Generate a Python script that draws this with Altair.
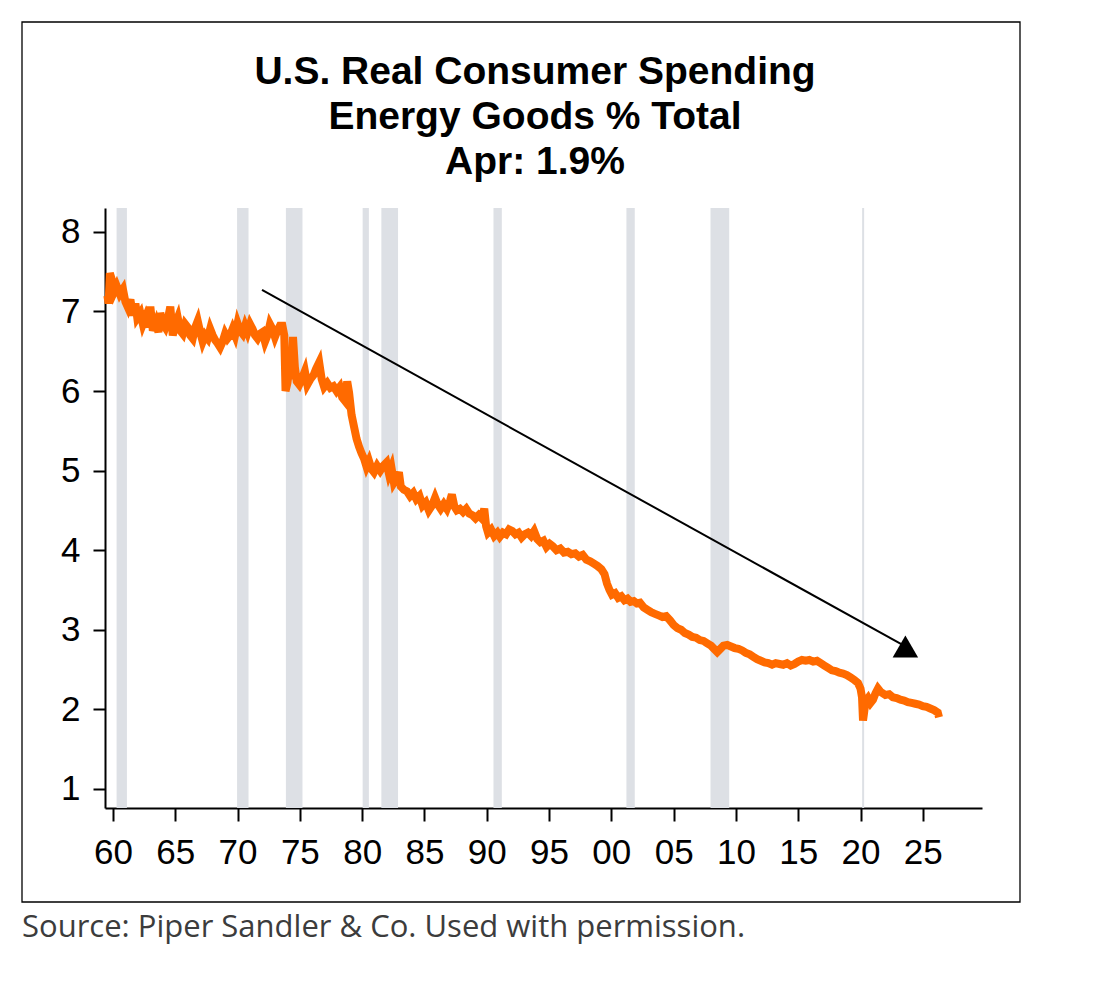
import altair as alt
import pandas as pd

# Energy goods share of real consumer spending (%), monthly-ish readings
years = [
    1959.55, 1959.65, 1959.75, 1959.95, 1960.10, 1960.30, 1960.55, 1960.80, 1961.00, 1961.20,
    1961.40, 1961.60, 1961.80, 1961.95, 1962.20, 1962.40, 1962.60, 1962.80, 1963.00, 1963.20,
    1963.45, 1963.65, 1963.80, 1964.00, 1964.20, 1964.40, 1964.60, 1964.80, 1965.00, 1965.20,
    1965.40, 1965.60, 1965.80, 1966.00, 1966.20, 1966.40, 1966.60, 1966.80, 1967.00, 1967.20,
    1967.40, 1967.60, 1967.80, 1968.00, 1968.20, 1968.40, 1968.60, 1968.80, 1969.00, 1969.20,
    1969.40, 1969.60, 1969.80, 1970.00, 1970.20, 1970.40, 1970.60, 1970.80, 1971.00, 1971.20,
    1971.40, 1971.60, 1971.80, 1972.00, 1972.20, 1972.40, 1972.60, 1972.80, 1973.00, 1973.20,
    1973.40, 1973.60, 1973.75, 1973.85, 1974.00, 1974.15, 1974.30, 1974.45, 1974.60, 1974.75,
    1974.95, 1975.15, 1975.40, 1975.60, 1975.85, 1976.10, 1976.30, 1976.55, 1976.75, 1976.95,
    1977.20, 1977.45, 1977.70, 1977.95, 1978.20, 1978.40, 1978.60, 1978.80, 1978.95, 1979.15,
    1979.35, 1979.55, 1979.75, 1979.95, 1980.15, 1980.35, 1980.55, 1980.75, 1980.95, 1981.20,
    1981.45, 1981.70, 1981.95, 1982.15, 1982.35, 1982.55, 1982.75, 1982.95, 1983.10, 1983.35,
    1983.60, 1983.85, 1984.10, 1984.35, 1984.60, 1984.85, 1985.10, 1985.35, 1985.60, 1985.85,
    1986.05, 1986.30, 1986.55, 1986.80, 1987.05, 1987.20, 1987.40, 1987.60, 1987.85, 1988.10,
    1988.35, 1988.60, 1988.85, 1989.10, 1989.35, 1989.60, 1989.80, 1989.95, 1990.10, 1990.35,
    1990.60, 1990.85, 1991.05, 1991.30, 1991.55, 1991.80, 1992.05, 1992.30, 1992.55, 1992.80,
    1993.05, 1993.30, 1993.55, 1993.80, 1994.05, 1994.30, 1994.55, 1994.80, 1995.05, 1995.30,
    1995.60, 1995.90, 1996.20, 1996.50, 1996.80, 1997.10, 1997.40, 1997.70, 1998.00, 1998.30,
    1998.60, 1998.90, 1999.20, 1999.45, 1999.65, 1999.85, 2000.05, 2000.30, 2000.55, 2000.80,
    2001.05, 2001.30, 2001.55, 2001.80, 2002.05, 2002.30, 2002.60, 2002.90, 2003.20, 2003.50,
    2003.80, 2004.10, 2004.40, 2004.70, 2005.00, 2005.30, 2005.60, 2005.90, 2006.20, 2006.50,
    2006.80, 2007.10, 2007.40, 2007.70, 2008.00, 2008.25, 2008.50, 2008.75, 2009.00, 2009.30,
    2009.60, 2009.90, 2010.20, 2010.50, 2010.80, 2011.10, 2011.40, 2011.70, 2012.00, 2012.30,
    2012.60, 2012.90, 2013.20, 2013.50, 2013.80, 2014.10, 2014.40, 2014.70, 2015.00, 2015.30,
    2015.60, 2015.90, 2016.20, 2016.50, 2016.80, 2017.10, 2017.40, 2017.70, 2018.00, 2018.30,
    2018.60, 2018.90, 2019.20, 2019.50, 2019.80, 2020.00, 2020.12, 2020.20, 2020.28, 2020.40,
    2020.60, 2020.80, 2021.00, 2021.20, 2021.40, 2021.60, 2021.80, 2022.00, 2022.30, 2022.60,
    2022.90, 2023.20, 2023.50, 2023.80, 2024.10, 2024.40, 2024.70, 2025.00, 2025.30, 2025.60,
    2025.90, 2026.20, 2026.30,
]
share = [
    7.20, 7.10, 7.48, 7.38, 7.25, 7.32, 7.22, 7.28, 7.12, 7.05,
    7.15, 6.95, 7.10, 6.92, 6.98, 6.84, 6.92, 6.80, 7.06, 6.76,
    6.86, 6.74, 6.98, 6.85, 6.80, 6.90, 7.06, 6.70, 6.84, 6.92,
    6.76, 6.72, 6.84, 6.80, 6.70, 6.66, 6.80, 6.88, 6.74, 6.62,
    6.70, 6.66, 6.78, 6.70, 6.64, 6.60, 6.55, 6.62, 6.72, 6.66,
    6.70, 6.78, 6.70, 6.85, 6.76, 6.72, 6.82, 6.74, 6.84, 6.78,
    6.70, 6.66, 6.72, 6.74, 6.62, 6.70, 6.84, 6.78, 6.68, 6.76,
    6.82, 6.82, 6.70, 6.00, 6.10, 6.28, 6.15, 6.68, 6.30, 6.12,
    6.08, 6.15, 6.25, 6.08, 6.15, 6.20, 6.28, 6.36, 6.15, 6.05,
    6.10, 6.04, 6.06, 6.00, 6.05, 5.92, 5.88, 6.12, 5.98, 5.70,
    5.55, 5.40, 5.30, 5.22, 5.15, 5.05, 5.12, 5.02, 4.98, 5.06,
    5.00, 5.06, 5.10, 4.96, 5.04, 4.85, 4.90, 4.98, 4.80, 4.76,
    4.74, 4.68, 4.72, 4.64, 4.68, 4.56, 4.60, 4.50, 4.56, 4.66,
    4.58, 4.52, 4.58, 4.52, 4.62, 4.70, 4.55, 4.50, 4.52, 4.48,
    4.52, 4.46, 4.44, 4.40, 4.44, 4.40, 4.52, 4.30, 4.22, 4.26,
    4.18, 4.22, 4.17, 4.22, 4.20, 4.26, 4.24, 4.20, 4.22, 4.16,
    4.20, 4.22, 4.18, 4.24, 4.14, 4.10, 4.12, 4.04, 4.08, 4.05,
    4.00, 4.02, 3.97, 3.98, 3.95, 3.96, 3.92, 3.94, 3.88, 3.86,
    3.83, 3.80, 3.76, 3.70, 3.58, 3.50, 3.44, 3.46, 3.40, 3.42,
    3.37, 3.39, 3.35, 3.36, 3.33, 3.34, 3.28, 3.25, 3.22, 3.20,
    3.18, 3.16, 3.17, 3.12, 3.06, 3.02, 3.00, 2.96, 2.94, 2.91,
    2.90, 2.87, 2.86, 2.83, 2.80, 2.76, 2.72, 2.76, 2.80, 2.81,
    2.79, 2.77, 2.76, 2.74, 2.71, 2.69, 2.66, 2.63, 2.61, 2.59,
    2.58, 2.56, 2.58, 2.57, 2.56, 2.58, 2.55, 2.57, 2.60, 2.62,
    2.61, 2.62, 2.60, 2.61, 2.58, 2.55, 2.52, 2.49, 2.48, 2.46,
    2.45, 2.43, 2.40, 2.37, 2.33, 2.26, 2.15, 1.86, 1.95, 2.10,
    2.14, 2.08, 2.12, 2.20, 2.26, 2.22, 2.20, 2.18, 2.19, 2.15,
    2.14, 2.12, 2.11, 2.09, 2.08, 2.07, 2.06, 2.04, 2.03, 2.01,
    1.99, 1.96, 1.90,
]

# NBER recessions (fractional years)
rec_start = [1960.29, 1969.96, 1973.88, 1980.04, 1981.54, 1990.54, 2001.21, 2007.96, 2020.13]
rec_end = [1961.12, 1970.88, 1975.21, 1980.54, 1982.88, 1991.21, 2001.88, 2009.46, 2020.29]

# Trend arrow: start and head
arrow_year = [1971.96, 2023.60]
arrow_value = [7.27, 2.79]

x_ticks = [1960, 1965, 1970, 1975, 1980, 1985, 1990, 1995, 2000, 2005, 2010, 2015, 2020, 2025]
y_ticks = [1, 2, 3, 4, 5, 6, 7, 8]

title_lines = ["U.S. Real Consumer Spending", "Energy Goods % Total", "Apr: 1.9%"]
footer = "Source: Piper Sandler & Co. Used with permission."

W, H = 877, 600
ORANGE = "#ff6a00"
BAND = "#dde0e5"
SANS = "Liberation Sans"

series = pd.DataFrame({"year": years, "share": share})
bands = pd.DataFrame({"start": rec_start, "end": rec_end})
arrow = pd.DataFrame({
    "x": [arrow_year[0]], "y": [arrow_value[0]],
    "x2": [arrow_year[1]], "y2": [arrow_value[1]],
})
head = pd.DataFrame({"x": [arrow_year[1]], "y": [arrow_value[1]]})

x_scale = alt.Scale(domain=[1959.36, 2029.75], nice=False, zero=False)
y_scale = alt.Scale(domain=[0.76, 8.30], nice=False, zero=False)

x_axis = alt.Axis(
    values=x_ticks, labelExpr="substring(toString(datum.value), 2)",
    title=None, grid=False, domainColor="black", domainWidth=2,
    tickColor="black", tickWidth=2, tickSize=13, labelFont=SANS,
    labelFontSize=35, labelColor="black", labelPadding=14, labelFlush=False,
)
y_axis = alt.Axis(
    values=y_ticks, format="d", title=None, grid=False, domainColor="black",
    domainWidth=2, tickColor="black", tickWidth=2, tickSize=12,
    labelFont=SANS, labelFontSize=35, labelColor="black", labelPadding=13,
)

recessions = alt.Chart(bands).mark_rect(color=BAND).encode(
    x=alt.X("start:Q", scale=x_scale, axis=x_axis),
    x2="end:Q",
    y=alt.value(0),
    y2=alt.value(H),
)

line = alt.Chart(series).mark_line(
    color=ORANGE, strokeWidth=8, strokeJoin="miter", strokeCap="butt"
).encode(
    x=alt.X("year:Q", scale=x_scale, axis=x_axis),
    y=alt.Y("share:Q", scale=y_scale, axis=y_axis),
)

trend = alt.Chart(arrow).mark_rule(color="black", strokeWidth=2).encode(
    x=alt.X("x:Q", scale=x_scale), y=alt.Y("y:Q", scale=y_scale),
    x2="x2:Q", y2="y2:Q",
)

arrow_head = alt.Chart(head).mark_point(
    shape="triangle-up", filled=True, color="black", opacity=1, size=650
).encode(
    x=alt.X("x:Q", scale=x_scale), y=alt.Y("y:Q", scale=y_scale),
)

# Outer frame around the whole graphic
frame = alt.Chart(alt.Data(values=[{}])).mark_rect(
    fillOpacity=0, stroke="black", strokeWidth=1.3
).encode(
    x=alt.value(-83), x2=alt.value(915), y=alt.value(-186), y2=alt.value(694),
)

heading = alt.Chart(alt.Data(values=[{}])).mark_text(
    text=title_lines, align="center", baseline="top", font=SANS,
    fontSize=39, fontWeight="bold", color="black", lineHeight=45,
).encode(x=alt.value(430), y=alt.value(-155))

source = alt.Chart(alt.Data(values=[{}])).mark_text(
    text=footer, align="left", baseline="alphabetic", font="Open Sans",
    fontSize=31, color="#3c3c3c",
).encode(x=alt.value(-83), y=alt.value(729))

chart = alt.layer(recessions, trend, line, arrow_head, frame, heading, source).properties(
    width=W, height=H,
    background="white",
    autosize=alt.AutoSizeParams(type="none"),
    padding={"left": 105, "top": 208, "right": 114, "bottom": 184},
).configure_view(stroke="transparent", strokeWidth=0)

chart.save("out.html", embed_options={"renderer": "svg", "actions": False})
